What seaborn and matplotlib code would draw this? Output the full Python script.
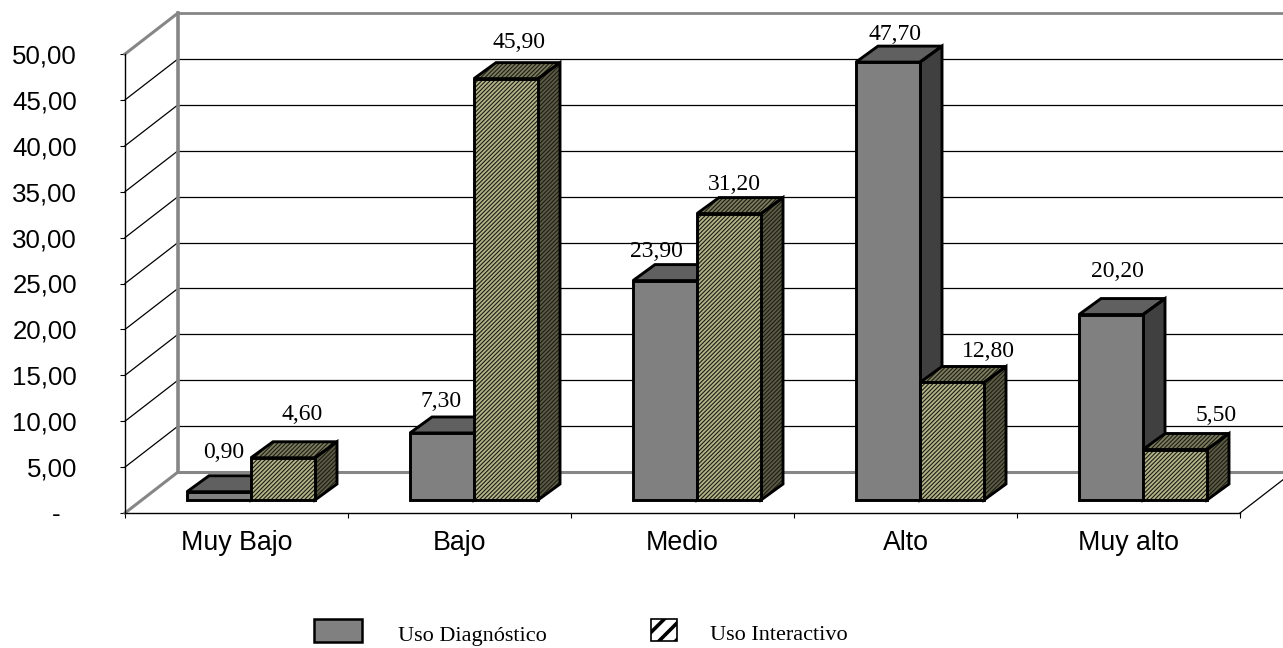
import matplotlib
matplotlib.use('Agg')
import matplotlib.pyplot as plt
import pandas as pd
import seaborn as sns
from matplotlib.patches import Polygon, Rectangle
from matplotlib.transforms import ScaledTranslation

# datos
niveles = ['Muy Bajo', 'Bajo', 'Medio', 'Alto', 'Muy alto']
uso_diagnostico = [0.90, 7.30, 23.90, 47.70, 20.20]
uso_interactivo = [4.60, 45.90, 31.20, 12.80, 5.50]
series = ['Uso Diagnóstico', 'Uso Interactivo']
y_ticks = [0, 5, 10, 15, 20, 25, 30, 35, 40, 45, 50]
y_tick_labels = ['-', '5,00', '10,00', '15,00', '20,00', '25,00', '30,00', '35,00', '40,00', '45,00', '50,00']

# desplazamiento de cada etiqueta respecto al centro superior de la barra (px)
offset_diag = [(5, -39), (-1, -31), (-9, -29), (7, -28), (6, -43)]
offset_inter = [(19, -43), (13, -36), (5, -29), (36, -31), (41, -34)]

W, H = 1283, 648
LEFT, RIGHT, TOP, BOTTOM = 125, 1240, 54, 513
SERIF = 'Liberation Serif'
SANS = 'Liberation Sans'

sns.set_style('white')
plt.rcParams['hatch.linewidth'] = 0.8

fig = plt.figure(figsize=(W / 100, H / 100), dpi=100)
ax = fig.add_axes([LEFT / W, 1 - BOTTOM / H, (RIGHT - LEFT) / W, (BOTTOM - TOP) / H])

df = pd.DataFrame({
    'nivel': niveles * 2,
    'serie': [series[0]] * 5 + [series[1]] * 5,
    'valor': uso_diagnostico + uso_interactivo,
})
sns.barplot(data=df, x='nivel', y='valor', hue='serie', order=niveles, hue_order=series,
            palette=['#808080', '#c4c496'], width=128 / 223, gap=0, dodge=True,
            legend=False, ax=ax)
ax.set_xlim(-0.5, 4.5)
ax.set_ylim(0, 50)

# px a unidades de datos
px_x = 5 / (RIGHT - LEFT)
px_y = 50 / (BOTTOM - TOP)
wall_dx, wall_dy = 53 * px_x, 41 * px_y
bar_shift_x, bar_shift_y = 14.5 * px_x, 13 * px_y
depth_x, depth_y = 22 * px_x, 16 * px_y

GRAY = '#868686'


def line(xs, ys, color='black', lw=0.9, z=1):
    ax.plot(xs, ys, color=color, lw=lw, zorder=z, clip_on=False, solid_capstyle='projecting')


# paredes y rejilla
for v in y_ticks[1:-1]:
    line([-0.5, -0.5 + wall_dx], [v, v + wall_dy])
    line([-0.5 + wall_dx, 4.5 + wall_dx], [v + wall_dy, v + wall_dy])
line([-0.5, -0.5 + wall_dx], [50, 50 + wall_dy], GRAY, 2.2)
line([-0.5 + wall_dx, 4.5 + wall_dx], [50 + wall_dy, 50 + wall_dy], GRAY, 2.0)
line([-0.5, -0.5 + wall_dx], [0, wall_dy], GRAY, 2.2)
line([-0.5 + wall_dx, 4.5 + wall_dx], [wall_dy, wall_dy], GRAY, 2.2)
line([-0.5 + wall_dx, -0.5 + wall_dx], [wall_dy, 50 + wall_dy], GRAY, 2.6)
line([4.5, 4.5 + wall_dx], [0, wall_dy])


def face(points, color, z, hatch=None, hatch_color='#1c1c14'):
    ax.add_patch(Polygon(points, closed=True, facecolor=color, edgecolor=hatch_color if hatch else 'none',
                         hatch=hatch, lw=0, zorder=z, clip_on=False))
    ax.add_patch(Polygon(points, closed=True, fill=False, edgecolor='black', lw=2.1,
                         joinstyle='miter', zorder=z + 0.1, clip_on=False))


# caras 3D a partir de las barras de seaborn
bars = list(ax.patches)
for i, bar in enumerate(bars):
    x0 = bar.get_x() + bar_shift_x
    x1 = x0 + bar.get_width()
    y0 = bar_shift_y
    y1 = bar.get_height() + bar_shift_y
    first = i < 5
    z = 3 if first else 4
    bar.set_visible(False)
    front = [(x0, y0), (x1, y0), (x1, y1), (x0, y1)]
    top = [(x0, y1), (x1, y1), (x1 + depth_x, y1 + depth_y), (x0 + depth_x, y1 + depth_y)]
    side = [(x1, y0), (x1 + depth_x, y0 + depth_y), (x1 + depth_x, y1 + depth_y), (x1, y1)]
    if first:
        face(side, '#404040', z)
        face(top, '#606060', z)
        face(front, '#808080', z + 0.2)
    else:
        face(side, '#5c5c46', z, '////////')
        face(top, '#7c7c5e', z, '////////')
        face(front, '#b4b48a', z + 0.2, '////////')
    # etiqueta de valor
    ox, oy = (offset_diag[i] if first else offset_inter[i - 5])
    ax.annotate(f'{bar.get_height():.2f}'.replace('.', ','),
                xy=((x0 + x1) / 2, y1), xytext=(ox * 0.72, -oy * 0.72), textcoords='offset points',
                ha='center', va='center', fontsize=17, family=SERIF, color='black',
                zorder=6, annotation_clip=False)

# ejes
for name in ['top', 'right']:
    ax.spines[name].set_visible(False)
ax.patch.set_visible(False)
ax.spines['left'].set_color('black')
ax.spines['bottom'].set_color('black')
ax.spines['left'].set_linewidth(1.0)
ax.spines['bottom'].set_linewidth(1.0)
ax.set_xlabel('')
ax.set_ylabel('')
ax.set_yticks(y_ticks, y_tick_labels, family=SANS, fontsize=18.6)
ax.set_xticks(range(5), niveles, family=SANS, fontsize=19.3)
ax.set_xticks([-0.5, 0.5, 1.5, 2.5, 3.5, 4.5], minor=True)
ax.tick_params(axis='x', which='major', bottom=False, length=0, pad=12, colors='black')
ax.tick_params(axis='x', which='minor', bottom=True, length=3.6, width=0.8, color='black')
ax.tick_params(axis='y', left=True, length=3.6, width=0.8, pad=31, color='black', labelcolor='black')
# el "-" del cero va separado del borde derecho, como en formato contable
zero = ax.get_yticklabels()[0]
zero.set_transform(zero.get_transform() + ScaledTranslation(-16 / 100, 0, fig.dpi_scale_trans))

# leyenda
fig.add_artist(Rectangle((314 / W, 1 - 642 / H), 48 / W, 23 / H, transform=fig.transFigure,
                         facecolor='#808080', edgecolor='black', lw=1.8))
plt.rcParams['hatch.linewidth'] = 2.6
fig.add_artist(Rectangle((651 / W, 1 - 641 / H), 26 / W, 22 / H, transform=fig.transFigure,
                         facecolor='white', edgecolor='black', hatch='//', lw=1.2))
fig.text(398 / W, 1 - 636 / H, series[0], family=SERIF, fontsize=16, ha='left', va='center', color='black')
fig.text(710 / W, 1 - 636 / H, series[1], family=SERIF, fontsize=16, ha='left', va='center', color='black')

fig.savefig('out.png', dpi=100)
plt.close(fig)
